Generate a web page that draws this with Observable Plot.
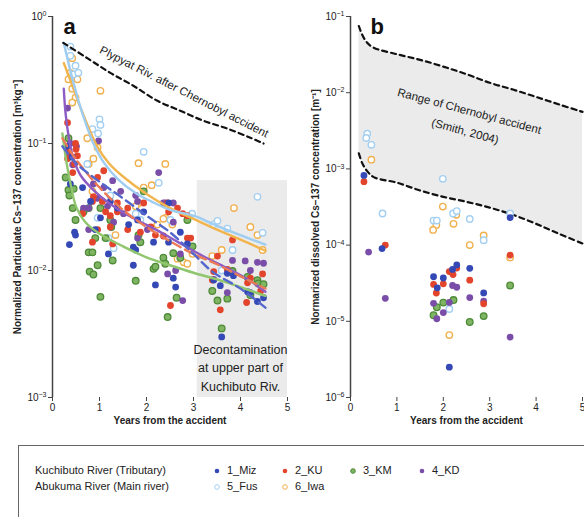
<!DOCTYPE html>
<html><head><meta charset="utf-8">
<script src="https://cdn.jsdelivr.net/npm/d3@7"></script>
<script src="https://cdn.jsdelivr.net/npm/@observablehq/plot@0.6"></script>
<style>
body{margin:0;width:584px;height:517px;overflow:hidden;background:#fff;font-family:"Liberation Sans",Arial,sans-serif;position:relative}
#a{position:absolute;left:0;top:0}
#b{position:absolute;left:300px;top:0}
#legend{position:absolute;left:18px;top:445px;width:640px;height:100px;border:1px solid #666;box-sizing:border-box;font-size:11px;color:#222}
#legend span{position:absolute;white-space:nowrap;line-height:13px}
#legend svg{position:absolute}
</style></head><body>
<div id="a"></div><div id="b"></div><div id="legend"></div>
<script>
// ---------- Panel a: particulate (years, m3/kg) ----------
const miz_a = [[0.42,0.078],[0.38,0.048],[0.3,0.095],[0.64,0.045],[1.23,0.035],[0.49,0.019],[0.36,0.016],[0.47,0.02],[0.81,0.035],[0.91,0.021],[1.02,0.026],[1.19,0.0135],[1.38,0.031],[1.62,0.023],[1.72,0.011],[1.72,0.0153],[1.77,0.0145],[1.81,0.025],[1.94,0.029],[2.15,0.0167],[2.19,0.0077],[2.47,0.034],[2.47,0.0167],[2.57,0.0087],[2.62,0.0074],[2.72,0.02],[2.87,0.0162],[3.43,0.0084],[3.57,0.0076],[3.6,0.003],[3.72,0.0095],[3.85,0.0091],[4.15,0.0068],[4.21,0.0067],[4.36,0.0057],[4.49,0.0061]];
const ku_a = [[0.32,0.146],[0.49,0.1],[0.34,0.087],[0.5,0.09],[0.32,0.076],[0.47,0.069],[0.43,0.059],[0.53,0.08],[0.64,0.028],[0.85,0.035],[0.85,0.0167],[0.87,0.038],[0.96,0.054],[0.96,0.021],[1.06,0.035],[1.09,0.061],[1.13,0.029],[1.23,0.027],[1.23,0.022],[1.28,0.0162],[1.38,0.029],[1.38,0.034],[1.6,0.031],[1.6,0.021],[1.87,0.02],[1.94,0.034],[2.09,0.022],[2.19,0.019],[2.36,0.0187],[2.45,0.034],[2.47,0.029],[2.51,0.0053],[2.66,0.031],[2.77,0.028],[2.87,0.027],[2.87,0.018],[2.94,0.018],[3.4,0.0084],[3.43,0.0098],[3.51,0.013],[3.57,0.0049],[3.72,0.0102],[3.83,0.0174],[4.13,0.0056],[4.15,0.008],[4.21,0.0087],[4.43,0.0069],[4.47,0.0094]];
const km_a = [[0.34,0.11],[0.28,0.054],[0.34,0.043],[0.36,0.039],[0.45,0.044],[0.43,0.031],[0.49,0.025],[0.66,0.029],[0.77,0.031],[0.77,0.0139],[0.79,0.0098],[0.85,0.0139],[0.87,0.0093],[0.91,0.018],[0.96,0.011],[1.02,0.0062],[1.02,0.031],[1.13,0.018],[1.23,0.025],[1.25,0.022],[1.28,0.012],[1.77,0.0083],[1.83,0.019],[1.87,0.0167],[1.94,0.042],[2.15,0.0103],[2.19,0.0107],[2.36,0.0126],[2.4,0.0113],[2.45,0.0043],[2.57,0.0137],[2.64,0.0061],[2.72,0.0126],[2.87,0.025],[2.98,0.0155],[3.4,0.0069],[3.51,0.0058],[3.6,0.0035],[3.72,0.006],[3.83,0.0099],[4.15,0.0089],[4.21,0.0064],[4.36,0.0084],[4.38,0.0079],[4.49,0.0078]];
const kd_a = [[0.32,0.19],[0.38,0.1],[0.51,0.095],[0.34,0.083],[0.43,0.068],[0.66,0.031],[0.77,0.031],[0.77,0.021],[0.87,0.048],[0.95,0.037],[0.98,0.105],[1.09,0.045],[1.17,0.032],[1.28,0.051],[1.3,0.024],[1.45,0.042],[1.51,0.028],[1.77,0.039],[1.81,0.035],[1.81,0.018],[2.02,0.021],[2.26,0.059],[2.36,0.034],[2.4,0.034],[2.45,0.0094],[2.57,0.034],[2.57,0.024],[2.62,0.01],[2.72,0.0135],[2.77,0.0058],[3.43,0.0085],[3.72,0.0067],[3.83,0.012],[4.1,0.0119],[4.21,0.01],[4.36,0.0116],[4.49,0.0114]];
const fus_a = [[0.38,0.58],[0.38,0.49],[0.49,0.41],[0.44,0.35],[0.55,0.36],[1.0,0.155],[1.02,0.14],[0.85,0.13],[0.97,0.12],[1.94,0.086],[2.26,0.049],[0.74,0.069],[1.23,0.039],[1.87,0.025],[0.96,0.026],[1.3,0.015],[1.19,0.018],[1.77,0.028],[2.51,0.025],[2.97,0.028],[3.43,0.023],[3.51,0.0246],[3.72,0.0214],[3.83,0.0145],[3.6,0.01],[4.36,0.038],[4.47,0.0198]];
const iwa_a = [[0.42,0.47],[0.38,0.36],[0.53,0.32],[0.34,0.32],[0.42,0.27],[0.49,0.23],[0.42,0.21],[1.02,0.26],[0.74,0.11],[0.96,0.093],[0.77,0.069],[0.87,0.076],[1.83,0.07],[2.4,0.069],[1.94,0.045],[2.11,0.047],[3.86,0.031],[1.83,0.034],[0.85,0.042],[2.4,0.026],[1.34,0.019],[1.77,0.032],[2.23,0.023],[2.36,0.0255],[2.55,0.023],[2.98,0.0135],[2.79,0.0116],[2.87,0.0113],[2.66,0.0124],[3.4,0.013],[3.6,0.0145],[4.21,0.022],[4.36,0.019],[4.47,0.0145]];
// fitted curves (panel a)
const fitFus = [[0.24,0.62],[0.4,0.35],[0.6,0.19],[0.87,0.1],[1.1,0.07],[1.4,0.052],[1.8,0.04],[2.1,0.035],[2.5,0.03],[3,0.027],[3.5,0.0225],[4,0.019],[4.53,0.016]];
const fitIwa = [[0.24,0.43],[0.4,0.3],[0.6,0.19],[0.95,0.095],[1.2,0.07],[1.5,0.055],[2,0.04],[2.5,0.031],[3,0.0255],[3.5,0.021],[4,0.0175],[4.53,0.0143]];
const fitKD = [[0.24,0.27],[0.28,0.17],[0.35,0.11],[0.45,0.075],[0.6,0.056],[0.9,0.042],[1.2,0.034],[1.7,0.026],[2.2,0.021],[2.7,0.0165],[3.2,0.013],[3.7,0.0105],[4.2,0.0083],[4.53,0.0068]];
const fitKM = [[0.21,0.12],[0.3,0.07],[0.4,0.045],[0.5,0.032],[0.7,0.024],[1,0.0195],[1.5,0.0155],[2,0.0127],[2.5,0.011],[3,0.0096],[3.5,0.0085],[4,0.0074],[4.53,0.0063]];
const fitMiz = [[0.21,0.095],[0.5,0.07],[1,0.05],[1.5,0.037],[2,0.027],[2.5,0.02],[3,0.0135],[3.4,0.0098],[4,0.0072],[4.53,0.0051]];
const fitKU = [[0.21,0.11],[0.5,0.075],[1,0.045],[1.5,0.03],[2,0.022],[2.5,0.017],[3,0.0135],[3.5,0.0112],[4,0.009],[4.53,0.0072]];
const pripyat = [[0.23,0.62],[0.74,0.47],[1.23,0.36],[1.72,0.285],[2.23,0.217],[2.72,0.181],[3.21,0.151],[3.72,0.131],[4.21,0.111],[4.49,0.1]];
const decon = [{x1:3.08,x2:5,y1:0.001,y2:0.051}];

// ---------- Panel b: dissolved (years, 1/m) ----------
const miz_b = [[0.29,8.2e-4],[0.68,9e-5],[1.79,3.84e-5],[1.87,2.75e-5],[2.0,3.7e-5],[2.2,4.8e-5],[2.29,5.5e-5],[2.57,4.95e-5],[2.87,2.36e-5],[3.44,2.3e-4],[2.13,2.5e-6]];
const ku_b = [[0.29,6.8e-4],[0.75,1.0e-4],[1.79,3.05e-5],[1.85,2.35e-5],[2.0,3.1e-5],[2.13,4.5e-5],[2.21,4.1e-5],[2.29,5.0e-5],[2.57,3.47e-5],[2.87,1.7e-5],[3.44,7.4e-5]];
const km_b = [[1.79,1.2e-5],[1.86,1.53e-5],[2.0,1.76e-5],[2.22,1.9e-5],[2.57,9.8e-6],[2.87,1.17e-5],[3.44,2.95e-5]];
const kd_b = [[0.39,8.1e-5],[0.75,2.0e-5],[1.79,1.72e-5],[1.86,1.08e-5],[2.0,1.3e-5],[2.13,1.77e-5],[2.2,2.95e-5],[2.29,2.8e-5],[2.57,2.05e-5],[2.87,1.84e-5],[3.44,6.2e-6]];
const fus_b = [[0.36,2.9e-3],[0.34,2.55e-3],[0.45,2.07e-3],[1.99,7.4e-4],[0.69,2.6e-4],[1.79,2.1e-4],[1.86,2.1e-4],[2.21,2.6e-4],[2.29,2.8e-4],[2.57,2.2e-4],[2.87,1.16e-4],[3.44,2.6e-4],[2.13,1.45e-5]];
const iwa_b = [[0.45,1.32e-3],[1.85,1.84e-4],[1.78,1.58e-4],[1.99,3.2e-4],[2.28,2.5e-4],[2.22,1.9e-4],[2.57,1.0e-4],[2.87,1.34e-4],[3.44,6.9e-5],[2.13,6.6e-6]];
const rangeX = [0.18,0.25,0.35,0.5,1,1.5,2,2.5,3,3.5,4,4.5,5];
const rangeUpper = [0.075,0.058,0.046,0.039,0.032,0.027,0.022,0.0175,0.0135,0.011,0.0088,0.007,0.0056];
const rangeLower = [0.0016,0.0012,0.00095,0.00078,0.00066,0.00052,0.00043,0.00037,0.00031,0.00025,0.00019,0.00014,0.000105];
const rangeTable = rangeX.map((x,i)=>({x, lo:rangeLower[i], hi:rangeUpper[i]}));

const xTicks = [0,1,2,3,4,5];
const yTicksA = [1e-3,1e-2,1e-1,1];
const yTicksB = [1e-6,1e-5,1e-4,1e-3,1e-2,1e-1];

const C = {miz:"#3448b6", ku:"#e2442c", kmFill:"#7fb562", kmStroke:"#4d8a38", kd:"#7a4ea8", fus:"#a3cff2", iwa:"#f1b04e"};
const FONT = "Liberation Sans, Arial, sans-serif";
const X = d=>d[0], Y = d=>d[1];
const fmt = d => "10^" + Math.round(Math.log10(d));

function dots(set){
  return [
    Plot.dot(set.iwa, {x:X, y:Y, r:3.2, fill:"white", stroke:C.iwa, strokeWidth:1.4}),
    Plot.dot(set.fus, {x:X, y:Y, r:3.2, fill:"white", stroke:C.fus, strokeWidth:1.4}),
    Plot.dot(set.km, {x:X, y:Y, r:3.3, fill:C.kmFill, stroke:C.kmStroke, strokeWidth:1.3}),
    Plot.dot(set.kd, {x:X, y:Y, r:3.4, fill:C.kd}),
    Plot.dot(set.ku, {x:X, y:Y, r:3.4, fill:C.ku}),
    Plot.dot(set.miz, {x:X, y:Y, r:3.4, fill:C.miz})
  ];
}
function axes(yTicks, ylabel){
  return [
    Plot.ruleX([0], {stroke:"#444", strokeWidth:1.5}),
    Plot.axisX({ticks:xTicks, tickSize:4, tickPadding:2, tickFormat:d=>String(d), label:null, fontSize:10, stroke:"#444"}),
    Plot.axisY({ticks:yTicks, tickSize:4, tickPadding:2, tickFormat:fmt, label:null, fontSize:10, stroke:"#444"}),
    Plot.text(["Years from the accident"], {frameAnchor:"bottom", dy:23, lineAnchor:"middle", fontWeight:"bold", fontSize:10, fill:"#222"}),
    Plot.text([ylabel], {frameAnchor:"left", dx:-35, rotate:-90, textAnchor:"middle", lineAnchor:"middle", fontWeight:"bold", fontSize:10, fill:"#222"})
  ];
}
function supers(svg){
  svg.querySelectorAll("text").forEach(t=>{
    const m = /^10\^(-?\d+)$/.exec(t.textContent);
    if(m){
      t.textContent = "10";
      const ts = document.createElementNS("http://www.w3.org/2000/svg","tspan");
      ts.setAttribute("dy","-0.5em");
      ts.setAttribute("font-size","7");
      ts.textContent = m[1].replace("-","\u2212");
      t.appendChild(ts);
    }
  });
}

const plotA = Plot.plot({
  width:300, height:440, marginLeft:52, marginRight:13, marginTop:16, marginBottom:43,
  style:{fontFamily:FONT, fontSize:"10px", color:"#222", background:"transparent"},
  x:{domain:[0,5]}, y:{type:"log", domain:[1e-3,1]},
  marks:[
    Plot.rect(decon, {x1:"x1", x2:"x2", y1:"y1", y2:"y2", fill:"#ebebeb"}),
    ...dots({miz:miz_a, ku:ku_a, km:km_a, kd:kd_a, fus:fus_a, iwa:iwa_a}),
    Plot.line(fitKM, {x:X, y:Y, stroke:"#8fc66e", strokeWidth:2.4, curve:"catmull-rom"}),
    Plot.line(fitKD, {x:X, y:Y, stroke:"#8d5cc4", strokeWidth:2.4, curve:"catmull-rom"}),
    Plot.line(fitKU, {x:X, y:Y, stroke:"#ea7b56", strokeWidth:2.4, strokeDasharray:"9,5", curve:"catmull-rom"}),
    Plot.line(fitMiz, {x:X, y:Y, stroke:"#5467cc", strokeWidth:2.4, strokeDasharray:"9,5", curve:"catmull-rom"}),
    Plot.line(fitIwa, {x:X, y:Y, stroke:"#f2b54e", strokeWidth:2.4, curve:"catmull-rom"}),
    Plot.line(fitFus, {x:X, y:Y, stroke:"#9fcdf2", strokeWidth:2.4, curve:"catmull-rom"}),
    Plot.line(pripyat, {x:X, y:Y, stroke:"#111", strokeWidth:2.2, strokeDasharray:"5,4", curve:"catmull-rom"}),
    Plot.text(["Plypyat Riv. after Chernobyl accident"], {x:2.8, y:0.255, rotate:27, fontSize:11.5, fill:"#222", textAnchor:"middle"}),
    Plot.text(["Decontamination\nat upper part of\nKuchibuto Riv."], {x:4.0, y:0.00175, fontSize:12.5, lineHeight:1.45, fill:"#222", textAnchor:"middle", lineAnchor:"middle"}),
    Plot.text(["a"], {frameAnchor:"top-left", dx:11, dy:17, fontSize:22, fontWeight:"bold", textAnchor:"start", lineAnchor:"bottom", fill:"#111"}),
    ...axes(yTicksA, "Normalized Particulate Cs\u2212137 concentration [m\u00b3kg\u207b\u00b9]")
  ]
});
supers(plotA);
document.getElementById("a").append(plotA);

const plotB = Plot.plot({
  width:284, height:440, marginLeft:50, marginRight:2, marginTop:16, marginBottom:43,
  style:{fontFamily:FONT, fontSize:"10px", color:"#222", background:"transparent", overflow:"visible"},
  x:{domain:[0,5]}, y:{type:"log", domain:[1e-6,1e-1]},
  marks:[
    Plot.areaY(rangeTable, {x:"x", y1:"lo", y2:"hi", fill:"#ebebeb", curve:"catmull-rom"}),
    Plot.line(rangeTable, {x:"x", y:"hi", stroke:"#111", strokeWidth:2.2, strokeDasharray:"5,4", curve:"catmull-rom"}),
    Plot.line(rangeTable, {x:"x", y:"lo", stroke:"#111", strokeWidth:2.2, strokeDasharray:"5,4", curve:"catmull-rom"}),
    ...dots({miz:miz_b, ku:ku_b, km:km_b, kd:kd_b, fus:fus_b, iwa:iwa_b}),
    Plot.text(["Range of Chernobyl accident"], {x:2.56, y:0.0057, rotate:15, fontSize:11.5, fill:"#222", textAnchor:"middle"}),
    Plot.text(["(Smith, 2004)"], {x:2.47, y:0.0031, rotate:15, fontSize:11.5, fill:"#222", textAnchor:"middle"}),
    Plot.text(["b"], {frameAnchor:"top-left", dx:20, dy:17, fontSize:22, fontWeight:"bold", textAnchor:"start", lineAnchor:"bottom", fill:"#111"}),
    ...axes(yTicksB, "Normarized dissolved Cs\u2212137 concentration [m\u207b\u00b9]")
  ]
});
supers(plotB);
document.getElementById("b").append(plotB);

// ---------- Legend ----------
const legendRows = ["Kuchibuto River (Tributary)", "Abukuma River (Main river)"];
const legendItems = [
  {name:"1_Miz", row:0, col:0, fill:C.miz, stroke:"none"},
  {name:"2_KU", row:0, col:1, fill:C.ku, stroke:"none"},
  {name:"3_KM", row:0, col:2, fill:C.kmFill, stroke:C.kmStroke},
  {name:"4_KD", row:0, col:3, fill:C.kd, stroke:"none"},
  {name:"5_Fus", row:1, col:0, fill:"white", stroke:C.fus},
  {name:"6_Iwa", row:1, col:1, fill:"white", stroke:C.iwa}
];
const lg = document.getElementById("legend");
const rowTop = [18, 34], colX = [198, 266, 334, 403];
legendRows.forEach((t,i)=>{ const s=document.createElement("span"); s.textContent=t; s.style.left="16px"; s.style.top=rowTop[i]+"px"; lg.append(s); });
legendItems.forEach(it=>{
  const svg = document.createElementNS("http://www.w3.org/2000/svg","svg");
  svg.setAttribute("width","8"); svg.setAttribute("height","8");
  svg.style.left=(colX[it.col]-4)+"px"; svg.style.top=(rowTop[it.row]+3)+"px";
  const c = document.createElementNS("http://www.w3.org/2000/svg","circle");
  c.setAttribute("cx","4"); c.setAttribute("cy","4"); c.setAttribute("r","2.3");
  c.setAttribute("fill", it.fill); c.setAttribute("stroke", it.stroke); c.setAttribute("stroke-width","1");
  svg.append(c); lg.append(svg);
  const s=document.createElement("span"); s.textContent=it.name; s.style.left=(colX[it.col]+10)+"px"; s.style.top=rowTop[it.row]+"px"; lg.append(s);
});
</script>
</body></html>
